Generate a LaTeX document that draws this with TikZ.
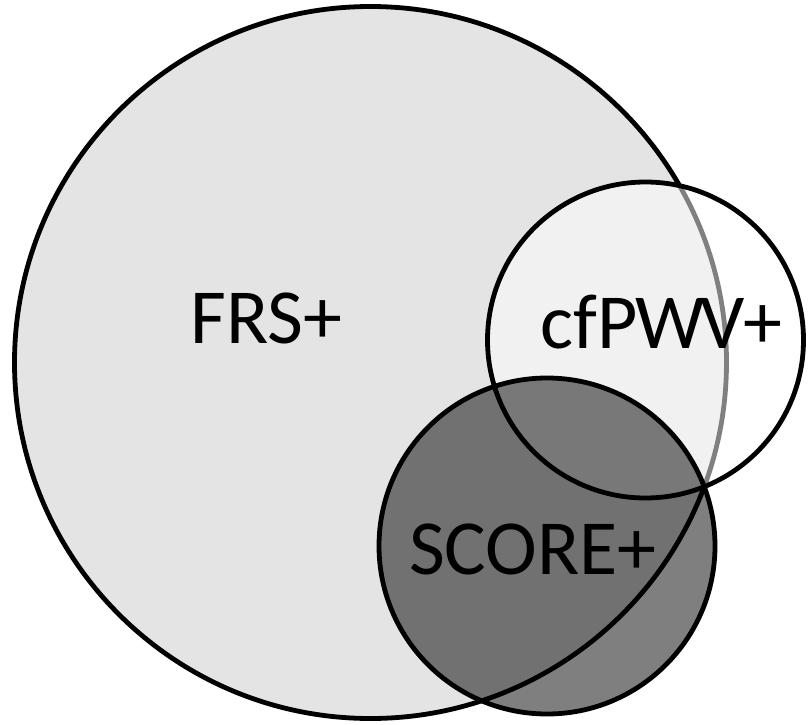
\documentclass[tikz,border=0pt]{standalone}
\usepackage{fontspec}
\setmainfont{Carlito}
\begin{document}
\begin{tikzpicture}[x=1pt,y=-1pt,
  ring/.style={draw=black,line width=4.8pt},
  lbl/.style={anchor=base,inner sep=0pt,font=\fontsize{78}{80}\selectfont}]
\useasboundingbox (0,0) rectangle (808,725);
\fill[white] (0,0) rectangle (808,725);
\path[ring,fill={rgb,255:red,228;green,228;blue,228}] (370.5,362.5) circle[radius=356pt];
\path[ring,fill=white,fill opacity=0.5] (645.5,340) circle[radius=158pt];
\path[ring,fill=black,fill opacity=0.5] (547,546) circle[radius=168pt];
\node[lbl] (frs) at (266.5,343) {FRS+};
\node[lbl] (cf) at (661,348) {cfP\kern-2pt W\kern-4pt V\kern-2pt+};
\node[lbl] (sc) at (533,574) {SCORE+};
\end{tikzpicture}
\end{document}
